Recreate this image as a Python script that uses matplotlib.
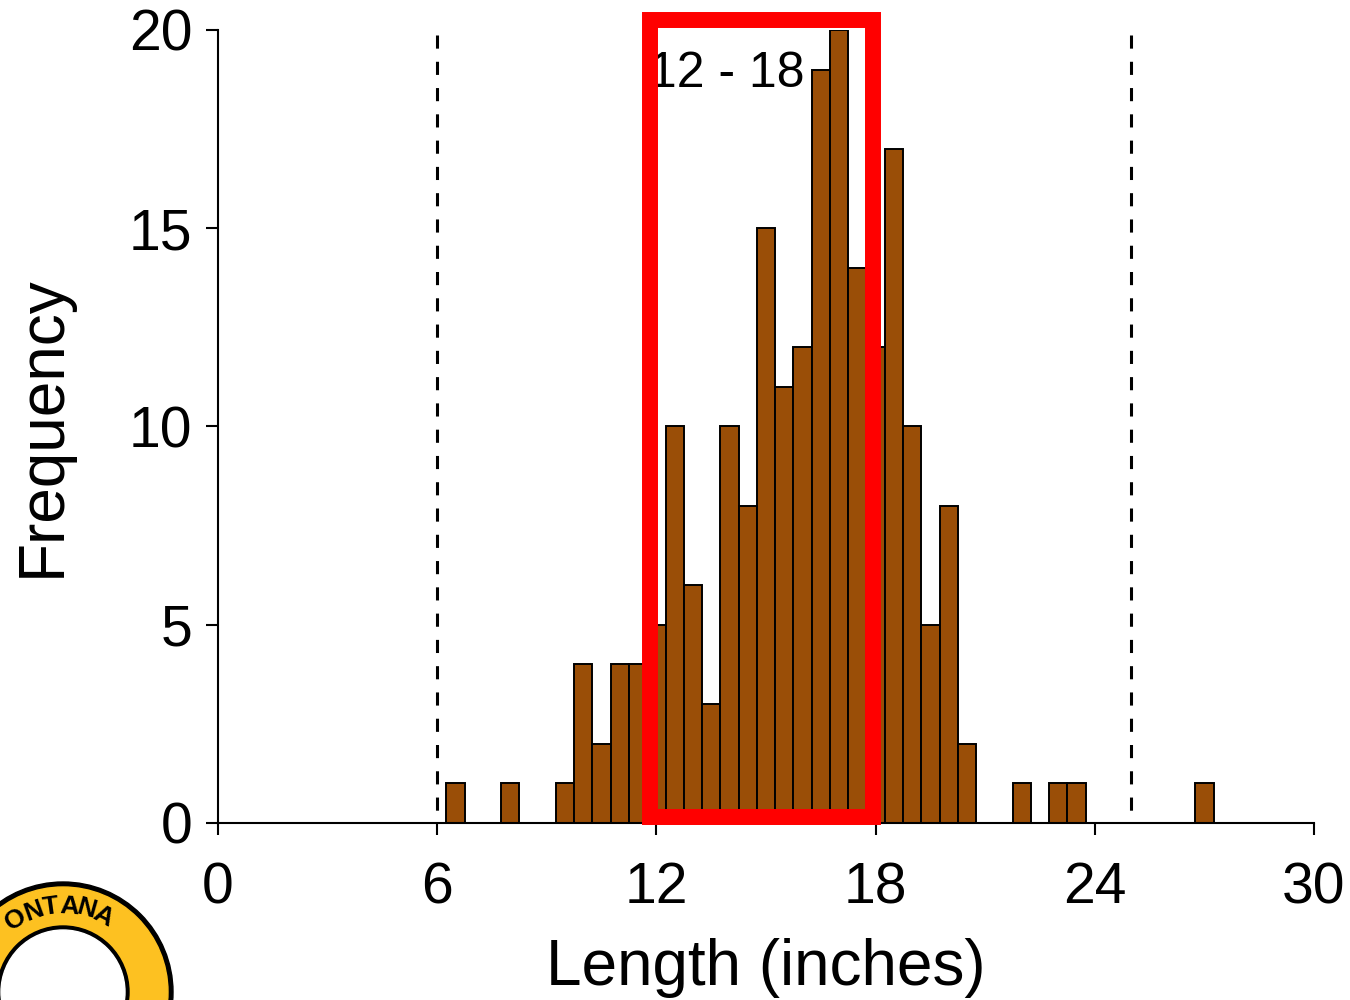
import matplotlib
matplotlib.use("Agg")
import matplotlib.pyplot as plt
from matplotlib.patches import Rectangle, Circle
import numpy as np

plt.rcParams['font.family'] = ['Liberation Sans', 'DejaVu Sans']

# length bins (centre of each half-inch bin) and how many fish fall in each
bin_centers = [6.5, 8.0, 9.5, 10.0, 10.5, 11.0, 11.5, 12.0, 12.5, 13.0,
               13.5, 14.0, 14.5, 15.0, 15.5, 16.0, 16.5, 17.0, 17.5, 18.0,
               18.5, 19.0, 19.5, 20.0, 20.5, 22.0, 23.0, 23.5, 27.0]
counts = [1, 1, 1, 4, 2, 4, 4, 5, 10, 6,
          3, 10, 8, 15, 11, 12, 19, 20, 14, 12,
          17, 10, 5, 8, 2, 1, 1, 1, 1]
bin_width = 0.5
limit_lines = [6, 25]
slot = (12, 18)
slot_label = "12 - 18"
x_ticks = [0, 6, 12, 18, 24, 30]
y_ticks = [0, 5, 10, 15, 20]

fig = plt.figure(figsize=(13.5, 10), dpi=100)

# logo layer in pixel coords
bg = fig.add_axes([0, 0, 1, 1])
bg.set_xlim(0, 1350)
bg.set_ylim(1000, 0)
bg.axis("off")
bg.add_patch(Circle((63, 992), 110, color="black"))
bg.add_patch(Circle((63, 992), 105, color="#FDC121"))
bg.add_patch(Circle((63, 992), 66, color="black"))
bg.add_patch(Circle((63, 992), 62, color="white"))
for letter, ang in zip("ONTANA", [123, 110, 98, 86, 74, 62]):
    a = np.deg2rad(ang)
    bg.text(63 + 86 * np.cos(a), 992 - 86 * np.sin(a), letter, fontsize=19,
            fontweight="bold", rotation=ang - 90, ha="center", va="center")

ax = fig.add_axes([218 / 1350, 1 - 823 / 1000, 1096 / 1350, 793 / 1000])
ax.set_zorder(2)
ax.patch.set_alpha(0)

for xv in limit_lines:
    ax.plot([xv, xv], [19.87, 0], color="black", lw=2.2, dashes=(4.3, 4.3),
            zorder=1)

ax.bar(bin_centers, counts, width=bin_width, color="#9A4E07",
       edgecolor="black", linewidth=1.4, zorder=2)

ax.text(16.06, 18.9, slot_label, fontsize=36, ha="right", va="center", zorder=3)

ax.add_patch(Rectangle((slot[0] - 0.17, 0.15), slot[1] - slot[0] + 0.1, 20.1,
                       fill=False, edgecolor="red", linewidth=11.5,
                       joinstyle="miter", clip_on=False, zorder=4))

ax.set_xlim(0, 30)
ax.set_ylim(0, 20)
ax.set_xticks(x_ticks)
ax.set_yticks(y_ticks)
ax.spines["top"].set_visible(False)
ax.spines["right"].set_visible(False)
ax.spines["left"].set_linewidth(1.5)
ax.spines["bottom"].set_linewidth(1.5)
ax.tick_params(labelsize=41, length=8.6, width=1.5, pad=10)
ax.tick_params(axis="x", pad=19)
ax.set_xlabel("Length (inches)", fontsize=46, labelpad=16)
ax.set_ylabel("Frequency", fontsize=46, labelpad=40)

fig.savefig("out.png", dpi=100)
